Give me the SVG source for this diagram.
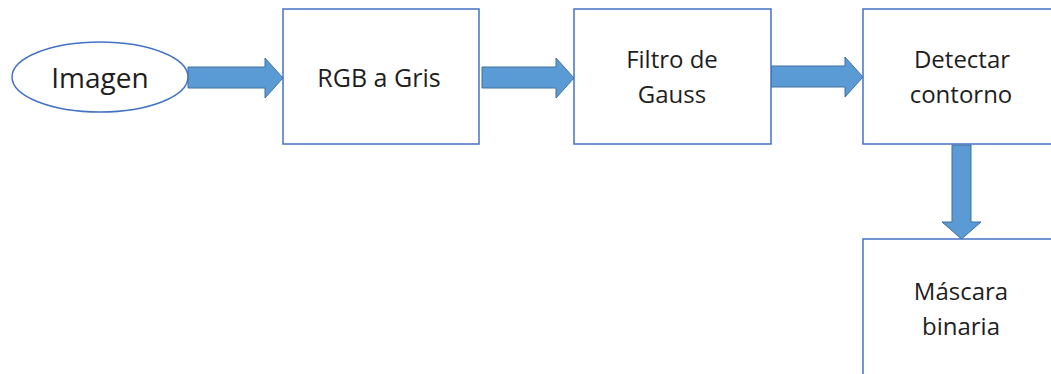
<svg xmlns="http://www.w3.org/2000/svg" width="1051" height="374" viewBox="0 0 1051 374">
<style>
.node{fill:#fff;stroke:#4472C4;stroke-width:1.5}
.arr{fill:#5B9BD5;stroke:#41719C;stroke-width:1}
.t{font-family:"Open Sans","Liberation Sans",sans-serif;font-size:24px;fill:#1e1e1e;text-anchor:middle}
</style>
<rect width="1051" height="374" fill="#fff"/>
<g id="connectors">
<polygon class="arr" points="188,67 265,67 265,58 283,78 265,98 265,88 188,88"/>
<polygon class="arr" points="482,67 556,67 556,58 574,78 556,98 556,88 482,88"/>
<polygon class="arr" points="771,66 845,66 845,57 863,77 845,97 845,87 771,87"/>
<polygon class="arr" points="952,145 971,145 971,222 981,222 961.5,239 942,222 952,222"/>
</g>
<g id="imagen">
<ellipse class="node" cx="100" cy="77" rx="88" ry="35"/>
<text class="t" x="100" y="88" style="font-size:28px">Imagen</text>
</g>
<g id="rgb">
<rect class="node" x="283" y="9" width="196" height="135"/>
<text class="t" x="379" y="87" style="font-size:25px">RGB a Gris</text>
</g>
<g id="gauss">
<rect class="node" x="574" y="9" width="197" height="135"/>
<text class="t" x="672" y="68">Filtro de</text>
<text class="t" x="672" y="103">Gauss</text>
</g>
<g id="contorno">
<rect class="node" x="863" y="9" width="200" height="135"/>
<text class="t" x="962" y="68">Detectar</text>
<text class="t" x="961" y="103">contorno</text>
</g>
<g id="mascara">
<rect class="node" x="863" y="239" width="200" height="150"/>
<text class="t" x="961" y="300">Máscara</text>
<text class="t" x="961" y="335">binaria</text>
</g>
</svg>
